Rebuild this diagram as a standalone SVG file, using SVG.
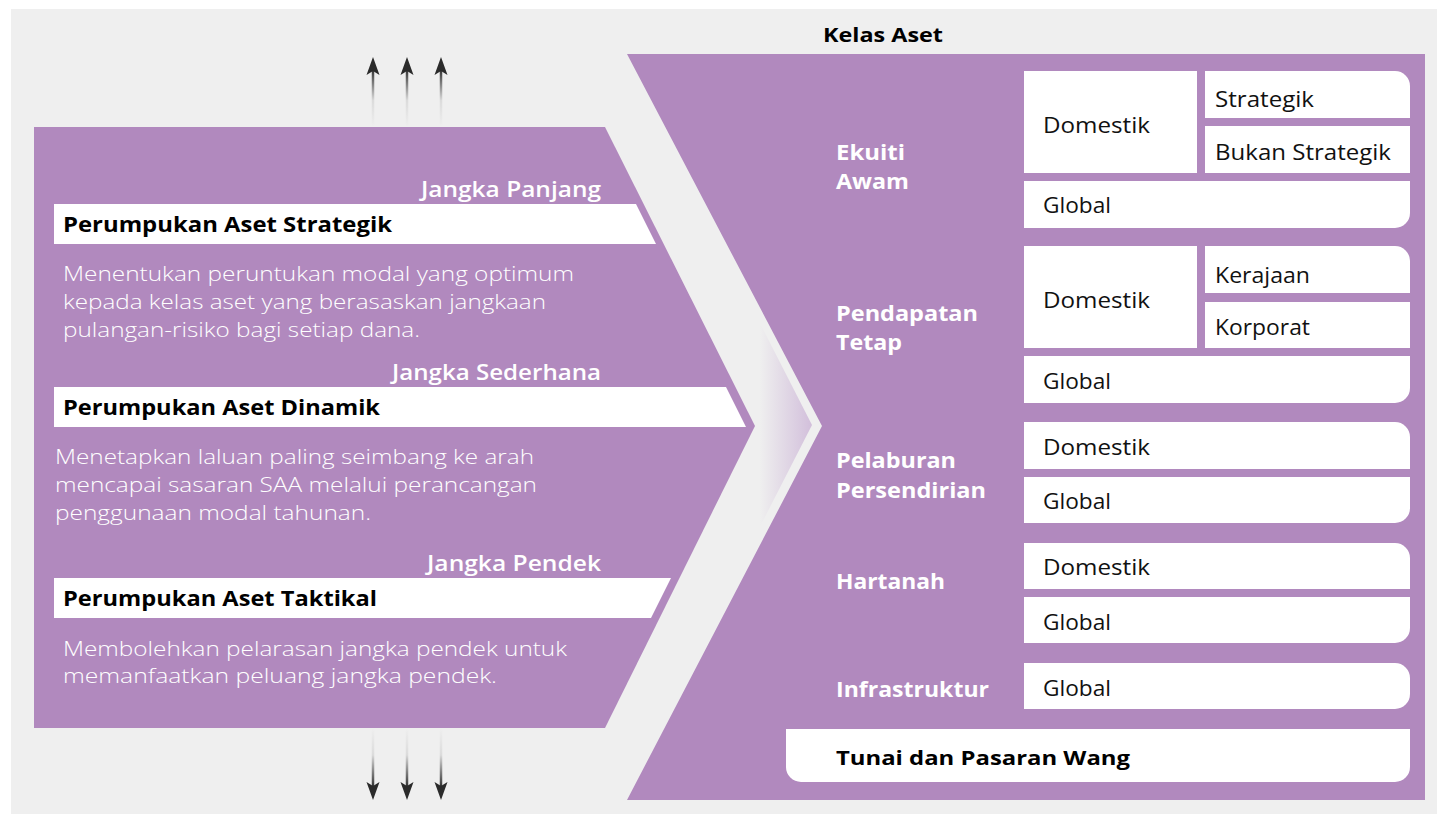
<svg xmlns="http://www.w3.org/2000/svg" width="1437" height="814" viewBox="0 0 1437 814">
<style>
.bg{fill:#efefef}
.panel{fill:#b189be}
.bar{fill:#ffffff}
.box{fill:#ffffff}
.term{font-family:"Open Sans","Noto Sans",sans-serif;font-size:21px;font-weight:600;fill:#ffffff;text-anchor:end}
.title{font-family:"Open Sans","Noto Sans",sans-serif;font-size:21px;font-weight:700;fill:#000000}
.desc{font-family:"Open Sans","Noto Sans",sans-serif;font-size:21px;font-weight:300;fill:#ffffff}
.cat{font-family:"Open Sans","Noto Sans",sans-serif;font-size:21px;font-weight:700;fill:#ffffff}
.cell{font-family:"Open Sans","Noto Sans",sans-serif;font-size:21px;font-weight:400;fill:#111111}
.head{font-family:"Open Sans","Noto Sans",sans-serif;font-size:20px;font-weight:700;fill:#000000}
.shaft-up{stroke:url(#gUp);stroke-width:2.5;fill:none}
.shaft-down{stroke:url(#gDown);stroke-width:2.5;fill:none}
</style>
<defs>
<linearGradient id="gUp" gradientUnits="userSpaceOnUse" x1="0" y1="68" x2="0" y2="127">
<stop offset="0" stop-color="#2b2b2b" stop-opacity="1"/>
<stop offset="0.55" stop-color="#2b2b2b" stop-opacity="0.1"/>
<stop offset="1" stop-color="#2b2b2b" stop-opacity="0"/>
</linearGradient>
<linearGradient id="gDown" gradientUnits="userSpaceOnUse" x1="0" y1="788" x2="0" y2="728">
<stop offset="0" stop-color="#2b2b2b" stop-opacity="1"/>
<stop offset="0.55" stop-color="#2b2b2b" stop-opacity="0.1"/>
<stop offset="1" stop-color="#2b2b2b" stop-opacity="0"/>
</linearGradient>
<linearGradient id="gShade" gradientUnits="userSpaceOnUse" x1="760" y1="0" x2="812" y2="0">
<stop offset="0" stop-color="#d2bfdb" stop-opacity="0"/>
<stop offset="1" stop-color="#d2bfdb" stop-opacity="1"/>
</linearGradient>
<marker id="ahead" markerUnits="userSpaceOnUse" markerWidth="18" markerHeight="13" refX="4" refY="6.5" orient="auto" overflow="visible">
<path d="M0,0 L18,6.5 L0,13 L4,6.5 Z" fill="#2b2b2b"/>
</marker>
</defs>

<rect class="bg" x="11" y="9" width="1426" height="805"/>
<polygon points="748,300 812,425 748,550" fill="url(#gShade)"/>

<g id="strategy-panel">
<polygon class="panel" points="34,127 605,127 755,426 605,728 34,728"/>
</g>

<g id="saa">
<polygon class="bar" points="54,204 636,204 656,244 54,244"/>
<text class="term" x="601" y="197" textLength="180" lengthAdjust="spacingAndGlyphs">Jangka Panjang</text>
<text class="title" x="63" y="232" textLength="329" lengthAdjust="spacingAndGlyphs">Perumpukan Aset Strategik</text>
<text class="desc" x="63" y="281" textLength="511" lengthAdjust="spacingAndGlyphs">Menentukan peruntukan modal yang optimum</text>
<text class="desc" x="63" y="309" textLength="483" lengthAdjust="spacingAndGlyphs">kepada kelas aset yang berasaskan jangkaan</text>
<text class="desc" x="63" y="337" textLength="357" lengthAdjust="spacingAndGlyphs">pulangan-risiko bagi setiap dana.</text>
</g>

<g id="daa">
<polygon class="bar" points="54,387 726,387 746,427 54,427"/>
<text class="term" x="601" y="380" textLength="209" lengthAdjust="spacingAndGlyphs">Jangka Sederhana</text>
<text class="title" x="63" y="415" textLength="317" lengthAdjust="spacingAndGlyphs">Perumpukan Aset Dinamik</text>
<text class="desc" x="55" y="464" textLength="479" lengthAdjust="spacingAndGlyphs">Menetapkan laluan paling seimbang ke arah</text>
<text class="desc" x="55" y="492" textLength="482" lengthAdjust="spacingAndGlyphs">mencapai sasaran SAA melalui perancangan</text>
<text class="desc" x="55" y="520" textLength="316" lengthAdjust="spacingAndGlyphs">penggunaan modal tahunan.</text>
</g>

<g id="taa">
<polygon class="bar" points="54,578 671,578 651,618 54,618"/>
<text class="term" x="601" y="571" textLength="174" lengthAdjust="spacingAndGlyphs">Jangka Pendek</text>
<text class="title" x="63" y="606" textLength="314" lengthAdjust="spacingAndGlyphs">Perumpukan Aset Taktikal</text>
<text class="desc" x="63" y="656" textLength="504" lengthAdjust="spacingAndGlyphs">Membolehkan pelarasan jangka pendek untuk</text>
<text class="desc" x="63" y="683" textLength="434" lengthAdjust="spacingAndGlyphs">memanfaatkan peluang jangka pendek.</text>
</g>

<g id="asset-panel">
<polygon class="panel" points="627,54 1425,54 1425,800 627,800 822,426"/>
<text class="head" x="823" y="42" textLength="120" lengthAdjust="spacingAndGlyphs">Kelas Aset</text>
</g>

<g id="ekuiti-awam">
<text class="cat" x="836" y="160" textLength="69" lengthAdjust="spacingAndGlyphs">Ekuiti</text>
<text class="cat" x="836" y="189" textLength="73" lengthAdjust="spacingAndGlyphs">Awam</text>
<rect class="box" x="1024" y="71" width="173" height="102"/>
<text class="cell" x="1043" y="133" textLength="107" lengthAdjust="spacingAndGlyphs">Domestik</text>
<path class="box" d="M1205,71 H1395 A15,15 0 0 1 1410,86 V118 H1205 Z"/>
<text class="cell" x="1215" y="107" textLength="99" lengthAdjust="spacingAndGlyphs">Strategik</text>
<rect class="box" x="1205" y="126" width="205" height="47"/>
<text class="cell" x="1215" y="160" textLength="176" lengthAdjust="spacingAndGlyphs">Bukan Strategik</text>
<path class="box" d="M1024,181 H1410 V213 A15,15 0 0 1 1395,228 H1024 Z"/>
<text class="cell" x="1043" y="213" textLength="68" lengthAdjust="spacingAndGlyphs">Global</text>
</g>

<g id="pendapatan-tetap">
<text class="cat" x="836" y="321" textLength="142" lengthAdjust="spacingAndGlyphs">Pendapatan</text>
<text class="cat" x="836" y="350" textLength="66" lengthAdjust="spacingAndGlyphs">Tetap</text>
<rect class="box" x="1024" y="246" width="173" height="102"/>
<text class="cell" x="1043" y="308" textLength="107" lengthAdjust="spacingAndGlyphs">Domestik</text>
<path class="box" d="M1205,246 H1395 A15,15 0 0 1 1410,261 V293 H1205 Z"/>
<text class="cell" x="1215" y="283" textLength="95" lengthAdjust="spacingAndGlyphs">Kerajaan</text>
<rect class="box" x="1205" y="302" width="205" height="46"/>
<text class="cell" x="1215" y="335" textLength="95" lengthAdjust="spacingAndGlyphs">Korporat</text>
<path class="box" d="M1024,356 H1410 V388 A15,15 0 0 1 1395,403 H1024 Z"/>
<text class="cell" x="1043" y="389" textLength="68" lengthAdjust="spacingAndGlyphs">Global</text>
</g>

<g id="pelaburan-persendirian">
<text class="cat" x="836" y="468" textLength="120" lengthAdjust="spacingAndGlyphs">Pelaburan</text>
<text class="cat" x="836" y="498" textLength="150" lengthAdjust="spacingAndGlyphs">Persendirian</text>
<path class="box" d="M1024,422 H1395 A15,15 0 0 1 1410,437 V469 H1024 Z"/>
<text class="cell" x="1043" y="455" textLength="107" lengthAdjust="spacingAndGlyphs">Domestik</text>
<path class="box" d="M1024,477 H1410 V508 A15,15 0 0 1 1395,523 H1024 Z"/>
<text class="cell" x="1043" y="509" textLength="68" lengthAdjust="spacingAndGlyphs">Global</text>
</g>

<g id="hartanah">
<text class="cat" x="836" y="589" textLength="109" lengthAdjust="spacingAndGlyphs">Hartanah</text>
<path class="box" d="M1024,543 H1395 A15,15 0 0 1 1410,558 V589 H1024 Z"/>
<text class="cell" x="1043" y="575" textLength="107" lengthAdjust="spacingAndGlyphs">Domestik</text>
<path class="box" d="M1024,597 H1410 V628 A15,15 0 0 1 1395,643 H1024 Z"/>
<text class="cell" x="1043" y="630" textLength="68" lengthAdjust="spacingAndGlyphs">Global</text>
</g>

<g id="infrastruktur">
<text class="cat" x="836" y="697" textLength="153" lengthAdjust="spacingAndGlyphs">Infrastruktur</text>
<path class="box" d="M1024,663 H1395 A15,15 0 0 1 1410,678 V694 A15,15 0 0 1 1395,709 H1024 Z"/>
<text class="cell" x="1043" y="696" textLength="68" lengthAdjust="spacingAndGlyphs">Global</text>
</g>

<g id="tunai">
<path class="box" d="M786,729 H1410 V767 A15,15 0 0 1 1395,782 H801 A15,15 0 0 1 786,767 Z"/>
<text class="head" x="836" y="765" textLength="294" lengthAdjust="spacingAndGlyphs">Tunai dan Pasaran Wang</text>
</g>

<g id="connectors">
<line class="shaft-up" x1="373" y1="127" x2="373" y2="71" marker-end="url(#ahead)"/>
<line class="shaft-up" x1="407" y1="127" x2="407" y2="71" marker-end="url(#ahead)"/>
<line class="shaft-up" x1="441" y1="127" x2="441" y2="71" marker-end="url(#ahead)"/>
<line class="shaft-down" x1="373" y1="728" x2="373" y2="786" marker-end="url(#ahead)"/>
<line class="shaft-down" x1="407" y1="728" x2="407" y2="786" marker-end="url(#ahead)"/>
<line class="shaft-down" x1="441" y1="728" x2="441" y2="786" marker-end="url(#ahead)"/>
</g>
</svg>
